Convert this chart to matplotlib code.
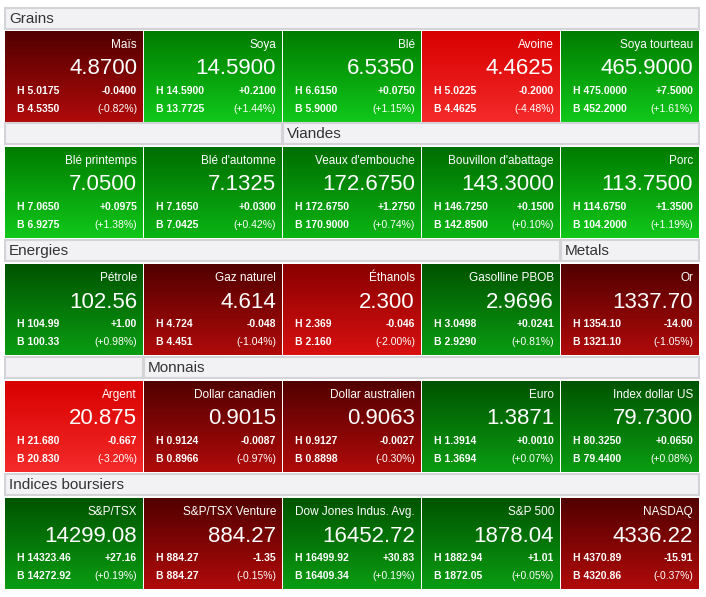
import matplotlib
matplotlib.use("Agg")
import matplotlib.pyplot as plt
import numpy as np
from matplotlib.patches import Rectangle

plt.rcParams['font.family'] = ['Liberation Sans', 'DejaVu Sans']

names = [["Maïs", "Soya", "Blé", "Avoine", "Soya tourteau"],
         ["Blé printemps", "Blé d'automne", "Veaux d'embouche", "Bouvillon d'abattage", "Porc"],
         ["Pétrole", "Gaz naturel", "Éthanols", "Gasolline PBOB", "Or"],
         ["Argent", "Dollar canadien", "Dollar australien", "Euro", "Index dollar US"],
         ["S&P/TSX", "S&P/TSX Venture", "Dow Jones Indus. Avg.", "S&P 500", "NASDAQ"]]
values = [["4.8700", "14.5900", "6.5350", "4.4625", "465.9000"],
          ["7.0500", "7.1325", "172.6750", "143.3000", "113.7500"],
          ["102.56", "4.614", "2.300", "2.9696", "1337.70"],
          ["20.875", "0.9015", "0.9063", "1.3871", "79.7300"],
          ["14299.08", "884.27", "16452.72", "1878.04", "4336.22"]]
highs = [["5.0175", "14.5900", "6.6150", "5.0225", "475.0000"],
         ["7.0650", "7.1650", "172.6750", "146.7250", "114.6750"],
         ["104.99", "4.724", "2.369", "3.0498", "1354.10"],
         ["21.680", "0.9124", "0.9127", "1.3914", "80.3250"],
         ["14323.46", "884.27", "16499.92", "1882.94", "4370.89"]]
lows = [["4.5350", "13.7725", "5.9000", "4.4625", "452.2000"],
        ["6.9275", "7.0425", "170.9000", "142.8500", "104.2000"],
        ["100.33", "4.451", "2.160", "2.9290", "1321.10"],
        ["20.830", "0.8966", "0.8898", "1.3694", "79.4400"],
        ["14272.92", "884.27", "16409.34", "1872.05", "4320.86"]]
changes = [["-0.0400", "+0.2100", "+0.0750", "-0.2000", "+7.5000"],
           ["+0.0975", "+0.0300", "+1.2750", "+0.1500", "+1.3500"],
           ["+1.00", "-0.048", "-0.046", "+0.0241", "-14.00"],
           ["-0.667", "-0.0087", "-0.0027", "+0.0010", "+0.0650"],
           ["+27.16", "-1.35", "+30.83", "+1.01", "-15.91"]]
pcts = [["-0.82%", "+1.44%", "+1.15%", "-4.48%", "+1.61%"],
        ["+1.38%", "+0.42%", "+0.74%", "+0.10%", "+1.19%"],
        ["+0.98%", "-1.04%", "-2.00%", "+0.81%", "-1.05%"],
        ["-3.20%", "-0.97%", "-0.30%", "+0.07%", "+0.08%"],
        ["+0.19%", "-0.15%", "+0.19%", "+0.05%", "-0.37%"]]
# shade level: 0 dark .. 2 bright
levels = [[0, 2, 2, 2, 2],
          [2, 1, 1, 1, 2],
          [0, 0, 1, 0, 0],
          [2, 0, 0, 0, 0],
          [0, 0, 0, 0, 0]]
# header bands per row: (first col, last col, label)
headers = [[(0, 4, "Grains")],
           [(0, 1, ""), (2, 4, "Viandes")],
           [(0, 3, "Energies"), (4, 4, "Metals")],
           [(0, 0, ""), (1, 4, "Monnais")],
           [(0, 4, "Indices boursiers")]]

palette = {
    ('g', 0): ("#005400", "#0a9c12"),
    ('g', 1): ("#006e00", "#0ab414"),
    ('g', 2): ("#007c00", "#10c81a"),
    ('r', 0): ("#520000", "#b00a0a"),
    ('r', 1): ("#8a0000", "#d81010"),
    ('r', 2): ("#d80000", "#f42a2a"),
}

W, H = 706, 597
fig = plt.figure(figsize=(W / 100, H / 100), dpi=100)
ax = fig.add_axes([0, 0, 1, 1])
ax.set_xlim(0, W)
ax.set_ylim(H, 0)
ax.axis('off')

col_x = [5, 144, 283, 422, 561]
cw = 138
head_y = [8, 123, 240, 357, 474]
row_y = [31, 147, 264, 381, 498]
th = 91

def hexrgb(h):
    return np.array([int(h[i:i + 2], 16) / 255 for i in (1, 3, 5)])

for r in range(5):
    for c0, c1, lab in headers[r]:
        x0 = col_x[c0]
        x1 = col_x[c1] + cw
        ax.add_patch(Rectangle((x0, head_y[r]), x1 - x0, 21, facecolor="#f2f2f5",
                               edgecolor="#d4d4d8", linewidth=1.5))
        ax.text(x0 + 4, head_y[r] + 11, lab, fontsize=11, color="#333333",
                ha='left', va='center')
    for c in range(5):
        x = col_x[c]
        y = row_y[r]
        sign = 'r' if changes[r][c].startswith('-') else 'g'
        top, bot = palette[(sign, levels[r][c])]
        t = np.linspace(0, 1, 64)[:, None]
        grad = (1 - t) * hexrgb(top) + t * hexrgb(bot)
        ax.imshow(grad[:, None, :].repeat(2, axis=1), extent=(x, x + cw, y + th, y),
                  aspect='auto', interpolation='bilinear', zorder=1)
        ax.text(x + cw - 6, y + 14, names[r][c], fontsize=8.5, color='white',
                ha='right', va='center', zorder=2)
        ax.text(x + cw - 6, y + 38, values[r][c], fontsize=16, color='white',
                ha='right', va='center', zorder=2)
        ax.text(x + 12, y + 60, "H " + highs[r][c], fontsize=7.5, color='white',
                fontweight='semibold', ha='left', va='center', zorder=2)
        ax.text(x + cw - 6, y + 60, changes[r][c], fontsize=7.5, color='white',
                fontweight='bold', ha='right', va='center', zorder=2)
        ax.text(x + 12, y + 78, "B " + lows[r][c], fontsize=7.5, color='white',
                fontweight='semibold', ha='left', va='center', zorder=2)
        ax.text(x + cw - 6, y + 78, "(" + pcts[r][c] + ")", fontsize=7.5, color='white',
                ha='right', va='center', zorder=2)

fig.savefig("out.png", dpi=100, facecolor='white')
